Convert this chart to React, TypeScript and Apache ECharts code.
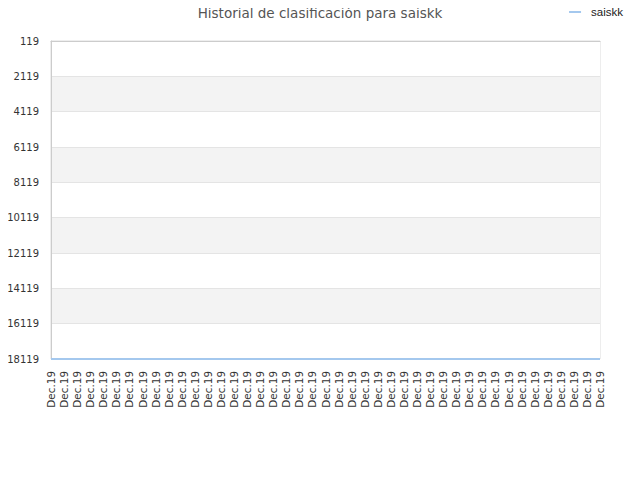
import React, { useEffect, useRef } from 'react';
import * as echarts from 'echarts';

const titleText = 'Historial de clasificación para saiskk';
const seriesName = 'saiskk';
const rankMin = 119;
const rankMax = 18119;
const rankStep = 2000;

// 43 daily points, all labelled "Dec.19"
const categories: string[] = [
  'Dec.19', 'Dec.19', 'Dec.19', 'Dec.19', 'Dec.19', 'Dec.19', 'Dec.19', 'Dec.19', 'Dec.19', 'Dec.19', 'Dec.19',
  'Dec.19', 'Dec.19', 'Dec.19', 'Dec.19', 'Dec.19', 'Dec.19', 'Dec.19', 'Dec.19', 'Dec.19', 'Dec.19', 'Dec.19',
  'Dec.19', 'Dec.19', 'Dec.19', 'Dec.19', 'Dec.19', 'Dec.19', 'Dec.19', 'Dec.19', 'Dec.19', 'Dec.19', 'Dec.19',
  'Dec.19', 'Dec.19', 'Dec.19', 'Dec.19', 'Dec.19', 'Dec.19', 'Dec.19', 'Dec.19', 'Dec.19', 'Dec.19',
];

const ranks: number[] = [
  18119, 18119, 18119, 18119, 18119, 18119, 18119, 18119, 18119, 18119, 18119,
  18119, 18119, 18119, 18119, 18119, 18119, 18119, 18119, 18119, 18119, 18119,
  18119, 18119, 18119, 18119, 18119, 18119, 18119, 18119, 18119, 18119, 18119,
  18119, 18119, 18119, 18119, 18119, 18119, 18119, 18119, 18119, 18119,
];

const App: React.FC = () => {
  const chartRef = useRef<HTMLDivElement>(null);

  useEffect(() => {
    if (!chartRef.current) return;
    const chart = echarts.init(chartRef.current, null, { renderer: 'svg' });

    // ticks are counted from 0, so plot ranks shifted by rankMin
    const option = {
      animation: false,
      title: {
        text: titleText,
        left: 'center',
        top: 1,
        textStyle: {
          fontFamily: 'DejaVu Sans',
          fontSize: 13.5,
          fontWeight: 'normal',
          color: '#555',
        },
      },
      legend: {
        data: [seriesName],
        right: 12,
        top: 1,
        icon: 'rect',
        itemWidth: 12,
        itemHeight: 2,
        textStyle: {
          fontFamily: 'Liberation Sans',
          fontSize: 11.5,
          color: '#222',
          padding: [0, 0, 0, 5],
        },
      },
      grid: {
        left: 51,
        right: 40,
        top: 41,
        bottom: 121,
        show: true,
        borderColor: '#dcdcdc',
        borderWidth: 1,
      },
      xAxis: {
        type: 'category',
        data: categories,
        boundaryGap: false,
        axisTick: { show: false },
        axisLine: { lineStyle: { color: '#ccc' } },
        axisLabel: {
          interval: 0,
          rotate: 90,
          fontFamily: 'DejaVu Sans',
          fontSize: 10.4,
          color: '#333',
          margin: 12,
        },
        splitLine: { show: false },
      },
      yAxis: {
        type: 'value',
        inverse: true,
        min: 0,
        max: rankMax - rankMin,
        interval: rankStep,
        axisLine: { show: true, lineStyle: { color: '#ccc' } },
        axisTick: { show: false },
        axisLabel: {
          fontFamily: 'DejaVu Sans',
          fontSize: 10,
          color: '#333',
          margin: 12,
          formatter: (v: number) => String(v + rankMin),
        },
        splitLine: { show: true, lineStyle: { color: '#e4e4e4' } },
        splitArea: { show: true, areaStyle: { color: ['#ffffff', '#f3f3f3'] } },
      },
      series: [
        {
          name: seriesName,
          type: 'line',
          data: ranks.map((r) => r - rankMin),
          showSymbol: false,
          lineStyle: { color: '#a4c8ee', width: 2 },
          itemStyle: { color: '#a4c8ee' },
        },
      ],
    };

    chart.setOption(option);
    return () => {
      chart.dispose();
    };
  }, []);

  return <div ref={chartRef} style={{ width: 640, height: 480, margin: -8 }} />;
};

export default App;
